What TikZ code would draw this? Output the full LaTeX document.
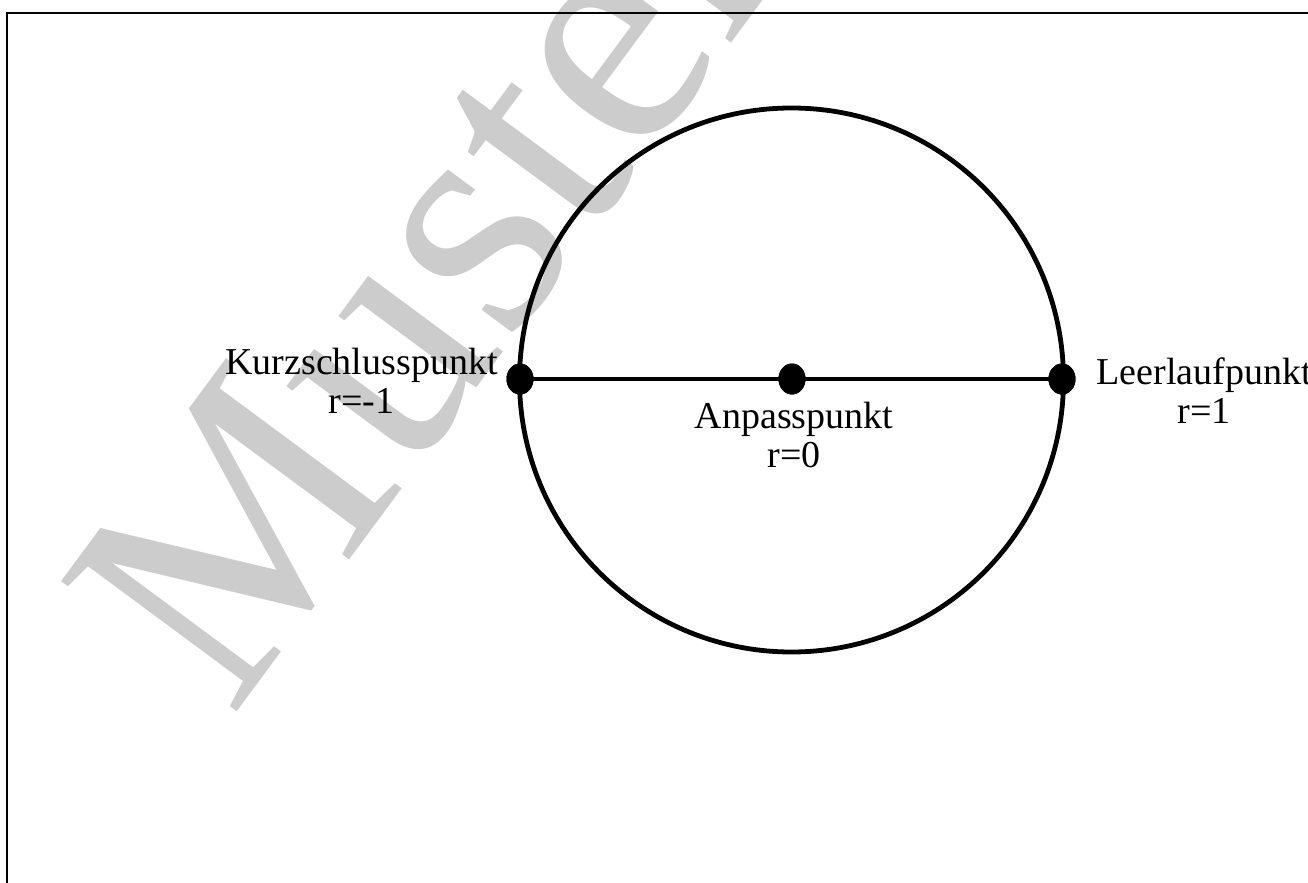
\documentclass[tikz,border=0pt]{standalone}
\usepackage{fontspec}
\setmainfont{Liberation Serif}
\usetikzlibrary{shapes.geometric}
\definecolor{wm}{RGB}{204,204,204}
\begin{document}
\begin{tikzpicture}[x=0.5pt,y=-0.5pt,
  frameline/.style={line width=0.85pt,line cap=rect},
  chart/.style={line width=2.4pt},
  dot/.style={ellipse,fill=black,minimum width=13.5pt,minimum height=15.5pt,inner sep=0pt},
  lbl/.style={font=\fontsize{19}{19.5}\selectfont,align=center,inner sep=0pt,anchor=base},
  watermark/.style={font=\fontsize{167}{167}\selectfont,text=wm,rotate=53.5,anchor=base west,inner sep=0pt}]
\useasboundingbox (0,0) rectangle (1308,883);
\node[watermark] (wmk) at (231,720) {Muster};
\draw[frameline] (6.8,883) -- (6.8,13) -- (1308,13);
\coordinate (c) at (791.5,380);
\draw[chart] (c) circle[radius=272];
\node[dot] (K) at (520,379) {};
\node[dot] (A) at (792,379) {};
\node[dot] (L) at (1062,379) {};
\draw[chart] (K.center) -- (A.center) -- (L.center);
\node[dot] at (K.center) {};
\node[dot] at (A.center) {};
\node[dot] at (L.center) {};
\node[lbl] (kl) at (361.5,413) {Kurzschlusspunkt\\r=-1};
\node[lbl] (al) at (794,467) {Anpasspunkt\\r=0};
\node[lbl] (ll) at (1204,423) {Leerlaufpunkt\\r=1};
\end{tikzpicture}
\end{document}
